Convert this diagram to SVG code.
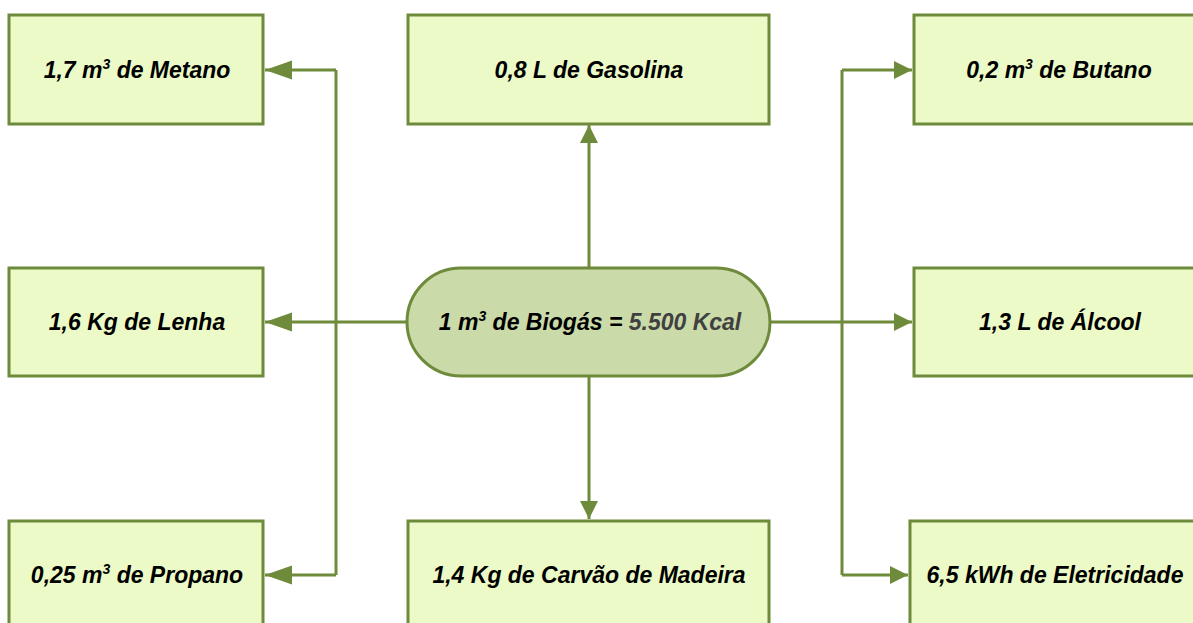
<svg xmlns="http://www.w3.org/2000/svg" width="1193" height="623" viewBox="0 0 1193 623">
<style>
.box{fill:#ebfac6;stroke:#6e8a3b;stroke-width:3}
.pill{fill:#cadaa9;stroke:#6e8a3b;stroke-width:3}
.lbl{font-family:"Liberation Sans",Arial,sans-serif;font-weight:bold;font-style:italic;font-size:23px;fill:#000;text-anchor:middle}
.sup{font-size:14px}
.gray{fill:#404040}
.ln{fill:none;stroke:#6e8a3b;stroke-width:3}
</style>
<defs>
<marker id="ah" markerUnits="userSpaceOnUse" markerWidth="20" markerHeight="20" viewBox="0 0 20 20" refX="19" refY="10" orient="auto">
<path d="M1,1 L19,10 L1,19 Z" fill="#6e8a3b"/>
</marker>
<marker id="ahl" markerUnits="userSpaceOnUse" markerWidth="29" markerHeight="20" viewBox="0 0 29 20" refX="28" refY="10" orient="auto">
<path d="M1,0.5 L28,10 L1,19.5 Z" fill="#6e8a3b"/>
</marker>
</defs>
<rect width="1193" height="623" fill="#fff"/>
<g id="connectors">
<path class="ln" d="M589,268 V125" marker-end="url(#ah)"/>
<path class="ln" d="M589,376 V519" marker-end="url(#ah)"/>
<path class="ln" d="M407,322 H265" marker-end="url(#ahl)"/>
<path class="ln" d="M336,70 V575"/>
<path class="ln" d="M336,70 H265" marker-end="url(#ahl)"/>
<path class="ln" d="M336,575 H265" marker-end="url(#ahl)"/>
<path class="ln" d="M770,322 H912" marker-end="url(#ah)"/>
<path class="ln" d="M842,70 V575"/>
<path class="ln" d="M842,70 H912" marker-end="url(#ah)"/>
<path class="ln" d="M842,575 H908" marker-end="url(#ah)"/>
</g>
<g id="metano"><rect class="box" x="9" y="15" width="254" height="109"/>
<text class="lbl" x="137" y="78">1,7 m<tspan class="sup" dy="-9">3</tspan><tspan dy="9"> de Metano</tspan></text></g>
<g id="gasolina"><rect class="box" x="408" y="15" width="361" height="109"/>
<text class="lbl" x="589" y="78">0,8 L de Gasolina</text></g>
<g id="butano"><rect class="box" x="914" y="15" width="300" height="109"/>
<text class="lbl" x="1059" y="78">0,2 m<tspan class="sup" dy="-9">3</tspan><tspan dy="9"> de Butano</tspan></text></g>
<g id="lenha"><rect class="box" x="9" y="268" width="254" height="108"/>
<text class="lbl" x="137" y="330">1,6 Kg de Lenha</text></g>
<g id="biogas"><rect class="pill" x="407" y="268" width="363" height="108" rx="54" ry="54"/>
<text class="lbl" x="590" y="330">1 m<tspan class="sup" dy="-9">3</tspan><tspan dy="9"> de Biogás = </tspan><tspan class="gray">5.500 Kcal</tspan></text></g>
<g id="alcool"><rect class="box" x="914" y="268" width="300" height="108"/>
<text class="lbl" x="1060" y="330">1,3 L de Álcool</text></g>
<g id="propano"><rect class="box" x="9" y="521" width="254" height="120"/>
<text class="lbl" x="137" y="583">0,25 m<tspan class="sup" dy="-9">3</tspan><tspan dy="9"> de Propano</tspan></text></g>
<g id="carvao"><rect class="box" x="408" y="521" width="361" height="120"/>
<text class="lbl" x="589" y="583">1,4 Kg de Carvão de Madeira</text></g>
<g id="eletricidade"><rect class="box" x="910" y="521" width="300" height="120"/>
<text class="lbl" x="1055" y="583">6,5 kWh de Eletricidade</text></g>
</svg>
